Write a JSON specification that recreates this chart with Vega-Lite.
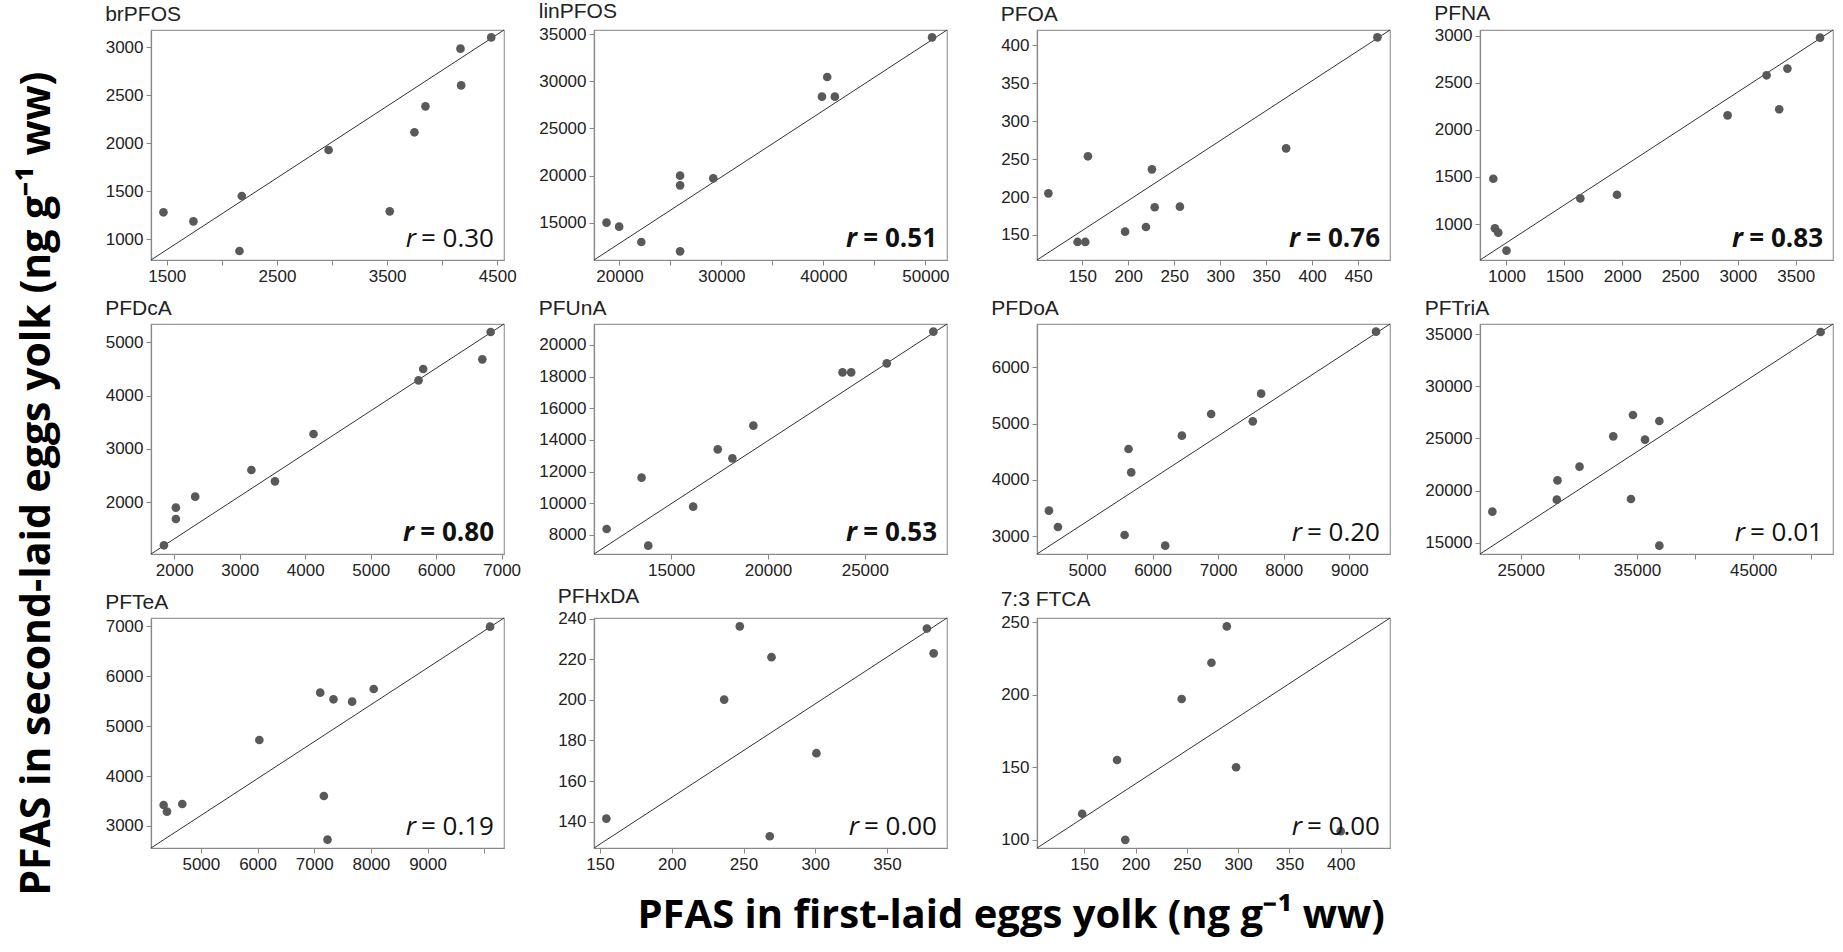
{
  "$schema": "https://vega.github.io/schema/vega-lite/v6.json",
  "background": "white",
  "padding": {"left": 16, "top": 0, "right": 2, "bottom": 10},
  "datasets": {
    "pts": [
      {"panel": "brPFOS", "first": 1470, "second": 1281},
      {"panel": "brPFOS", "first": 1742, "second": 1187},
      {"panel": "brPFOS", "first": 2181, "second": 1451},
      {"panel": "brPFOS", "first": 2160, "second": 879},
      {"panel": "brPFOS", "first": 2969, "second": 1929},
      {"panel": "brPFOS", "first": 3524, "second": 1291},
      {"panel": "brPFOS", "first": 3748, "second": 2113},
      {"panel": "brPFOS", "first": 3848, "second": 2383},
      {"panel": "brPFOS", "first": 4166, "second": 2983},
      {"panel": "brPFOS", "first": 4172, "second": 2601},
      {"panel": "brPFOS", "first": 4445, "second": 3100},
      {"panel": "linPFOS", "first": 18733, "second": 15000},
      {"panel": "linPFOS", "first": 19971, "second": 14574},
      {"panel": "linPFOS", "first": 22144, "second": 12946},
      {"panel": "linPFOS", "first": 25945, "second": 19990},
      {"panel": "linPFOS", "first": 25945, "second": 18964},
      {"panel": "linPFOS", "first": 25945, "second": 11955},
      {"panel": "linPFOS", "first": 29200, "second": 19707},
      {"panel": "linPFOS", "first": 39853, "second": 28380},
      {"panel": "linPFOS", "first": 40371, "second": 30469},
      {"panel": "linPFOS", "first": 41120, "second": 28380},
      {"panel": "linPFOS", "first": 50650, "second": 34681},
      {"panel": "PFOA", "first": 113.2, "second": 204.9},
      {"panel": "PFOA", "first": 144.9, "second": 140.8},
      {"panel": "PFOA", "first": 153.3, "second": 140.8},
      {"panel": "PFOA", "first": 156.2, "second": 253.7},
      {"panel": "PFOA", "first": 196.6, "second": 154.4},
      {"panel": "PFOA", "first": 219.3, "second": 160.5},
      {"panel": "PFOA", "first": 225.8, "second": 236.5},
      {"panel": "PFOA", "first": 228.8, "second": 186.5},
      {"panel": "PFOA", "first": 256.2, "second": 187.3},
      {"panel": "PFOA", "first": 371.7, "second": 264.2},
      {"panel": "PFOA", "first": 471, "second": 410.5},
      {"panel": "PFNA", "first": 886, "second": 1481},
      {"panel": "PFNA", "first": 900, "second": 954},
      {"panel": "PFNA", "first": 929, "second": 908},
      {"panel": "PFNA", "first": 1000, "second": 717},
      {"panel": "PFNA", "first": 1638, "second": 1272},
      {"panel": "PFNA", "first": 1955, "second": 1311},
      {"panel": "PFNA", "first": 2911, "second": 2154},
      {"panel": "PFNA", "first": 3248, "second": 2579},
      {"panel": "PFNA", "first": 3357, "second": 2218},
      {"panel": "PFNA", "first": 3428, "second": 2650},
      {"panel": "PFNA", "first": 3710, "second": 2979},
      {"panel": "PFDcA", "first": 1843, "second": 1194},
      {"panel": "PFDcA", "first": 2025, "second": 1900},
      {"panel": "PFDcA", "first": 2025, "second": 1687},
      {"panel": "PFDcA", "first": 2320, "second": 2106},
      {"panel": "PFDcA", "first": 3178, "second": 2606},
      {"panel": "PFDcA", "first": 3538, "second": 2394},
      {"panel": "PFDcA", "first": 4127, "second": 3281},
      {"panel": "PFDcA", "first": 5731, "second": 4288},
      {"panel": "PFDcA", "first": 5802, "second": 4500},
      {"panel": "PFDcA", "first": 6705, "second": 4681},
      {"panel": "PFDcA", "first": 6832, "second": 5194},
      {"panel": "PFUnA", "first": 11667, "second": 8380},
      {"panel": "PFUnA", "first": 13471, "second": 11622},
      {"panel": "PFUnA", "first": 13815, "second": 7328},
      {"panel": "PFUnA", "first": 16134, "second": 9791},
      {"panel": "PFUnA", "first": 17405, "second": 13411},
      {"panel": "PFUnA", "first": 18161, "second": 12843},
      {"panel": "PFUnA", "first": 19243, "second": 14906},
      {"panel": "PFUnA", "first": 23848, "second": 18274},
      {"panel": "PFUnA", "first": 24294, "second": 18274},
      {"panel": "PFUnA", "first": 26133, "second": 18842},
      {"panel": "PFUnA", "first": 28538, "second": 20842},
      {"panel": "PFDoA", "first": 4421, "second": 3456},
      {"panel": "PFDoA", "first": 4558, "second": 3166},
      {"panel": "PFDoA", "first": 5574, "second": 3024},
      {"panel": "PFDoA", "first": 5634, "second": 4550},
      {"panel": "PFDoA", "first": 5675, "second": 4136},
      {"panel": "PFDoA", "first": 6193, "second": 2834},
      {"panel": "PFDoA", "first": 6447, "second": 4787},
      {"panel": "PFDoA", "first": 6893, "second": 5172},
      {"panel": "PFDoA", "first": 7528, "second": 5041},
      {"panel": "PFDoA", "first": 7655, "second": 5533},
      {"panel": "PFDoA", "first": 9406, "second": 6633},
      {"panel": "PFTriA", "first": 22556, "second": 17997},
      {"panel": "PFTriA", "first": 28160, "second": 20996},
      {"panel": "PFTriA", "first": 28102, "second": 19146},
      {"panel": "PFTriA", "first": 30057, "second": 22304},
      {"panel": "PFTriA", "first": 32959, "second": 25207},
      {"panel": "PFTriA", "first": 34655, "second": 27248},
      {"panel": "PFTriA", "first": 34483, "second": 19209},
      {"panel": "PFTriA", "first": 35690, "second": 24888},
      {"panel": "PFTriA", "first": 36926, "second": 26674},
      {"panel": "PFTriA", "first": 36926, "second": 14743},
      {"panel": "PFTriA", "first": 50807, "second": 35191},
      {"panel": "PFTeA", "first": 4343, "second": 3421},
      {"panel": "PFTeA", "first": 4402, "second": 3287},
      {"panel": "PFTeA", "first": 4672, "second": 3441},
      {"panel": "PFTeA", "first": 6032, "second": 4723},
      {"panel": "PFTeA", "first": 7106, "second": 5671},
      {"panel": "PFTeA", "first": 7170, "second": 3601},
      {"panel": "PFTeA", "first": 7235, "second": 2726},
      {"panel": "PFTeA", "first": 7340, "second": 5538},
      {"panel": "PFTeA", "first": 7669, "second": 5491},
      {"panel": "PFTeA", "first": 8050, "second": 5745},
      {"panel": "PFTeA", "first": 10103, "second": 6993},
      {"panel": "PFHxDA", "first": 154.4, "second": 141.5},
      {"panel": "PFHxDA", "first": 236.5, "second": 200.1},
      {"panel": "PFHxDA", "first": 247.4, "second": 236.2},
      {"panel": "PFHxDA", "first": 268.3, "second": 132.8},
      {"panel": "PFHxDA", "first": 269.5, "second": 221},
      {"panel": "PFHxDA", "first": 300.8, "second": 173.7},
      {"panel": "PFHxDA", "first": 377.8, "second": 235.1},
      {"panel": "PFHxDA", "first": 382.5, "second": 222.9},
      {"panel": "7:3 FTCA", "first": 148, "second": 118},
      {"panel": "7:3 FTCA", "first": 190, "second": 100},
      {"panel": "7:3 FTCA", "first": 182, "second": 155},
      {"panel": "7:3 FTCA", "first": 245, "second": 197},
      {"panel": "7:3 FTCA", "first": 274, "second": 222},
      {"panel": "7:3 FTCA", "first": 289, "second": 247},
      {"panel": "7:3 FTCA", "first": 298, "second": 150},
      {"panel": "7:3 FTCA", "first": 400, "second": 106}
    ],
    "ref": [
      {"panel": "brPFOS", "first": 1357, "second": 785},
      {"panel": "brPFOS", "first": 4561, "second": 3177},
      {"panel": "linPFOS", "first": 17505, "second": 11035},
      {"panel": "linPFOS", "first": 52115, "second": 35460},
      {"panel": "PFOA", "first": 100.8, "second": 117},
      {"panel": "PFOA", "first": 484.7, "second": 420.2},
      {"panel": "PFNA", "first": 771, "second": 618},
      {"panel": "PFNA", "first": 3822, "second": 3060},
      {"panel": "PFDcA", "first": 1645, "second": 1031},
      {"panel": "PFDcA", "first": 7036, "second": 5344},
      {"panel": "PFUnA", "first": 11014, "second": 6800},
      {"panel": "PFUnA", "first": 29243, "second": 21326},
      {"panel": "PFDoA", "first": 4239, "second": 2686},
      {"panel": "PFDoA", "first": 9619, "second": 6769},
      {"panel": "PFTriA", "first": 21492, "second": 13947},
      {"panel": "PFTriA", "first": 51870, "second": 35957},
      {"panel": "PFTeA", "first": 4120, "second": 2559},
      {"panel": "PFTeA", "first": 10349, "second": 7167},
      {"panel": "PFHxDA", "first": 145.8, "second": 127},
      {"panel": "PFHxDA", "first": 391.8, "second": 240.3},
      {"panel": "7:3 FTCA", "first": 104, "second": 94.4},
      {"panel": "7:3 FTCA", "first": 448, "second": 252.8}
    ],
    "ann": [
      {"panel": "brPFOS", "label": "= 0.30"},
      {"panel": "linPFOS", "label": "= 0.51"},
      {"panel": "PFOA", "label": "= 0.76"},
      {"panel": "PFNA", "label": "= 0.83"},
      {"panel": "PFDcA", "label": "= 0.80"},
      {"panel": "PFUnA", "label": "= 0.53"},
      {"panel": "PFDoA", "label": "= 0.20"},
      {"panel": "PFTriA", "label": "= 0.01"},
      {"panel": "PFTeA", "label": "= 0.19"},
      {"panel": "PFHxDA", "label": "= 0.00"},
      {"panel": "7:3 FTCA", "label": "= 0.00"}
    ]
  },
  "title": {"text": "PFAS in first-laid eggs yolk (ng g⁻¹ ww)", "orient": "bottom", "anchor": "middle", "font": "Open Sans", "fontSize": 40, "fontWeight": "bold", "color": "#000", "offset": 0, "dx": 85},
  "config": {
    "view": {"stroke": "#999", "strokeWidth": 1.2},
    "axis": {"labelFont": "Liberation Sans", "labelFontSize": 17, "labelColor": "#222", "domainColor": "#888", "domainWidth": 1.2, "tickColor": "#888", "tickSize": 5, "grid": false, "labelPadding": 3, "labelOverlap": false, "labelFlush": false},
    "title": {"font": "Liberation Sans", "fontSize": 21, "fontWeight": "normal", "anchor": "start", "offset": 3, "color": "#222"}
  },
  "vconcat": [
    {
      "title": {"text": "PFAS in second-laid eggs yolk (ng g⁻¹ ww)", "orient": "left", "anchor": "middle", "font": "Open Sans", "fontSize": 41, "fontWeight": "bold", "color": "#000", "offset": 46, "dx": -47},
      "columns": 4,
      "spacing": {"row": 64, "column": 90},
      "bounds": "flush",
      "concat": [
        {
          "title": "brPFOS", "width": 353, "height": 230,
          "encoding": {
            "x": {"field": "first", "type": "quantitative", "title": null, "scale": {"domain": [1357, 4561], "nice": false, "zero": false}, "axis": {"values": [1500, 2000, 2500, 3000, 3500, 4000, 4500], "format": "d", "labelExpr": "datum.value % 1000 == 500 ? datum.label : ''"}},
            "y": {"field": "second", "type": "quantitative", "title": null, "scale": {"domain": [785, 3177], "nice": false, "zero": false}, "axis": {"values": [1000, 1500, 2000, 2500, 3000], "format": "d"}}
          },
          "layer": [
            {"data": {"name": "ref"}, "transform": [{"filter": "datum.panel === 'brPFOS'"}], "mark": {"type": "line", "color": "#333", "strokeWidth": 1}},
            {"data": {"name": "pts"}, "transform": [{"filter": "datum.panel === 'brPFOS'"}], "mark": {"type": "circle", "size": 75, "color": "#595959", "opacity": 1}},
            {"data": {"name": "ann"}, "transform": [{"filter": "datum.panel === 'brPFOS'"}], "mark": {"type": "text", "text": "r", "font": "Open Sans", "fontSize": 26, "fontStyle": "italic", "fontWeight": "normal", "align": "right", "baseline": "alphabetic", "dx": -88, "dy": -13, "color": "#111"}, "encoding": {"x": {"value": "width"}, "y": {"value": "height"}}},
            {"data": {"name": "ann"}, "transform": [{"filter": "datum.panel === 'brPFOS'"}], "mark": {"type": "text", "font": "Open Sans", "fontSize": 26, "fontWeight": "normal", "align": "right", "baseline": "alphabetic", "dx": -10, "dy": -13, "color": "#111"}, "encoding": {"x": {"value": "width"}, "y": {"value": "height"}, "text": {"field": "label"}}}
          ]
        },
        {
          "title": "linPFOS", "width": 353, "height": 230,
          "encoding": {
            "x": {"field": "first", "type": "quantitative", "title": null, "scale": {"domain": [17505, 52115], "nice": false, "zero": false}, "axis": {"values": [20000, 25000, 30000, 35000, 40000, 45000, 50000], "format": "d", "labelExpr": "datum.value % 10000 == 0 ? datum.label : ''"}},
            "y": {"field": "second", "type": "quantitative", "title": null, "scale": {"domain": [11035, 35460], "nice": false, "zero": false}, "axis": {"values": [15000, 20000, 25000, 30000, 35000], "format": "d"}}
          },
          "layer": [
            {"data": {"name": "ref"}, "transform": [{"filter": "datum.panel === 'linPFOS'"}], "mark": {"type": "line", "color": "#333", "strokeWidth": 1}},
            {"data": {"name": "pts"}, "transform": [{"filter": "datum.panel === 'linPFOS'"}], "mark": {"type": "circle", "size": 75, "color": "#595959", "opacity": 1}},
            {"data": {"name": "ann"}, "transform": [{"filter": "datum.panel === 'linPFOS'"}], "mark": {"type": "text", "text": "r", "font": "Open Sans", "fontSize": 26, "fontStyle": "italic", "fontWeight": "bold", "align": "right", "baseline": "alphabetic", "dx": -90, "dy": -13, "color": "#111"}, "encoding": {"x": {"value": "width"}, "y": {"value": "height"}}},
            {"data": {"name": "ann"}, "transform": [{"filter": "datum.panel === 'linPFOS'"}], "mark": {"type": "text", "font": "Open Sans", "fontSize": 26, "fontWeight": "bold", "align": "right", "baseline": "alphabetic", "dx": -10, "dy": -13, "color": "#111"}, "encoding": {"x": {"value": "width"}, "y": {"value": "height"}, "text": {"field": "label"}}}
          ]
        },
        {
          "title": "PFOA", "width": 353, "height": 230,
          "encoding": {
            "x": {"field": "first", "type": "quantitative", "title": null, "scale": {"domain": [100.8, 484.7], "nice": false, "zero": false}, "axis": {"values": [150, 200, 250, 300, 350, 400, 450], "format": "d"}},
            "y": {"field": "second", "type": "quantitative", "title": null, "scale": {"domain": [117, 420.2], "nice": false, "zero": false}, "axis": {"values": [150, 200, 250, 300, 350, 400], "format": "d"}}
          },
          "layer": [
            {"data": {"name": "ref"}, "transform": [{"filter": "datum.panel === 'PFOA'"}], "mark": {"type": "line", "color": "#333", "strokeWidth": 1}},
            {"data": {"name": "pts"}, "transform": [{"filter": "datum.panel === 'PFOA'"}], "mark": {"type": "circle", "size": 75, "color": "#595959", "opacity": 1}},
            {"data": {"name": "ann"}, "transform": [{"filter": "datum.panel === 'PFOA'"}], "mark": {"type": "text", "text": "r", "font": "Open Sans", "fontSize": 26, "fontStyle": "italic", "fontWeight": "bold", "align": "right", "baseline": "alphabetic", "dx": -90, "dy": -13, "color": "#111"}, "encoding": {"x": {"value": "width"}, "y": {"value": "height"}}},
            {"data": {"name": "ann"}, "transform": [{"filter": "datum.panel === 'PFOA'"}], "mark": {"type": "text", "font": "Open Sans", "fontSize": 26, "fontWeight": "bold", "align": "right", "baseline": "alphabetic", "dx": -10, "dy": -13, "color": "#111"}, "encoding": {"x": {"value": "width"}, "y": {"value": "height"}, "text": {"field": "label"}}}
          ]
        },
        {
          "title": "PFNA", "width": 353, "height": 230,
          "encoding": {
            "x": {"field": "first", "type": "quantitative", "title": null, "scale": {"domain": [771, 3822], "nice": false, "zero": false}, "axis": {"values": [1000, 1500, 2000, 2500, 3000, 3500], "format": "d"}},
            "y": {"field": "second", "type": "quantitative", "title": null, "scale": {"domain": [618, 3060], "nice": false, "zero": false}, "axis": {"values": [1000, 1500, 2000, 2500, 3000], "format": "d"}}
          },
          "layer": [
            {"data": {"name": "ref"}, "transform": [{"filter": "datum.panel === 'PFNA'"}], "mark": {"type": "line", "color": "#333", "strokeWidth": 1}},
            {"data": {"name": "pts"}, "transform": [{"filter": "datum.panel === 'PFNA'"}], "mark": {"type": "circle", "size": 75, "color": "#595959", "opacity": 1}},
            {"data": {"name": "ann"}, "transform": [{"filter": "datum.panel === 'PFNA'"}], "mark": {"type": "text", "text": "r", "font": "Open Sans", "fontSize": 26, "fontStyle": "italic", "fontWeight": "bold", "align": "right", "baseline": "alphabetic", "dx": -90, "dy": -13, "color": "#111"}, "encoding": {"x": {"value": "width"}, "y": {"value": "height"}}},
            {"data": {"name": "ann"}, "transform": [{"filter": "datum.panel === 'PFNA'"}], "mark": {"type": "text", "font": "Open Sans", "fontSize": 26, "fontWeight": "bold", "align": "right", "baseline": "alphabetic", "dx": -10, "dy": -13, "color": "#111"}, "encoding": {"x": {"value": "width"}, "y": {"value": "height"}, "text": {"field": "label"}}}
          ]
        },
        {
          "title": "PFDcA", "width": 353, "height": 230,
          "encoding": {
            "x": {"field": "first", "type": "quantitative", "title": null, "scale": {"domain": [1645, 7036], "nice": false, "zero": false}, "axis": {"values": [2000, 3000, 4000, 5000, 6000, 7000], "format": "d"}},
            "y": {"field": "second", "type": "quantitative", "title": null, "scale": {"domain": [1031, 5344], "nice": false, "zero": false}, "axis": {"values": [2000, 3000, 4000, 5000], "format": "d"}}
          },
          "layer": [
            {"data": {"name": "ref"}, "transform": [{"filter": "datum.panel === 'PFDcA'"}], "mark": {"type": "line", "color": "#333", "strokeWidth": 1}},
            {"data": {"name": "pts"}, "transform": [{"filter": "datum.panel === 'PFDcA'"}], "mark": {"type": "circle", "size": 75, "color": "#595959", "opacity": 1}},
            {"data": {"name": "ann"}, "transform": [{"filter": "datum.panel === 'PFDcA'"}], "mark": {"type": "text", "text": "r", "font": "Open Sans", "fontSize": 26, "fontStyle": "italic", "fontWeight": "bold", "align": "right", "baseline": "alphabetic", "dx": -90, "dy": -13, "color": "#111"}, "encoding": {"x": {"value": "width"}, "y": {"value": "height"}}},
            {"data": {"name": "ann"}, "transform": [{"filter": "datum.panel === 'PFDcA'"}], "mark": {"type": "text", "font": "Open Sans", "fontSize": 26, "fontWeight": "bold", "align": "right", "baseline": "alphabetic", "dx": -10, "dy": -13, "color": "#111"}, "encoding": {"x": {"value": "width"}, "y": {"value": "height"}, "text": {"field": "label"}}}
          ]
        },
        {
          "title": "PFUnA", "width": 353, "height": 230,
          "encoding": {
            "x": {"field": "first", "type": "quantitative", "title": null, "scale": {"domain": [11014, 29243], "nice": false, "zero": false}, "axis": {"values": [15000, 20000, 25000], "format": "d"}},
            "y": {"field": "second", "type": "quantitative", "title": null, "scale": {"domain": [6800, 21326], "nice": false, "zero": false}, "axis": {"values": [8000, 10000, 12000, 14000, 16000, 18000, 20000], "format": "d"}}
          },
          "layer": [
            {"data": {"name": "ref"}, "transform": [{"filter": "datum.panel === 'PFUnA'"}], "mark": {"type": "line", "color": "#333", "strokeWidth": 1}},
            {"data": {"name": "pts"}, "transform": [{"filter": "datum.panel === 'PFUnA'"}], "mark": {"type": "circle", "size": 75, "color": "#595959", "opacity": 1}},
            {"data": {"name": "ann"}, "transform": [{"filter": "datum.panel === 'PFUnA'"}], "mark": {"type": "text", "text": "r", "font": "Open Sans", "fontSize": 26, "fontStyle": "italic", "fontWeight": "bold", "align": "right", "baseline": "alphabetic", "dx": -90, "dy": -13, "color": "#111"}, "encoding": {"x": {"value": "width"}, "y": {"value": "height"}}},
            {"data": {"name": "ann"}, "transform": [{"filter": "datum.panel === 'PFUnA'"}], "mark": {"type": "text", "font": "Open Sans", "fontSize": 26, "fontWeight": "bold", "align": "right", "baseline": "alphabetic", "dx": -10, "dy": -13, "color": "#111"}, "encoding": {"x": {"value": "width"}, "y": {"value": "height"}, "text": {"field": "label"}}}
          ]
        },
        {
          "title": "PFDoA", "width": 353, "height": 230,
          "encoding": {
            "x": {"field": "first", "type": "quantitative", "title": null, "scale": {"domain": [4239, 9619], "nice": false, "zero": false}, "axis": {"values": [5000, 6000, 7000, 8000, 9000], "format": "d"}},
            "y": {"field": "second", "type": "quantitative", "title": null, "scale": {"domain": [2686, 6769], "nice": false, "zero": false}, "axis": {"values": [3000, 4000, 5000, 6000], "format": "d"}}
          },
          "layer": [
            {"data": {"name": "ref"}, "transform": [{"filter": "datum.panel === 'PFDoA'"}], "mark": {"type": "line", "color": "#333", "strokeWidth": 1}},
            {"data": {"name": "pts"}, "transform": [{"filter": "datum.panel === 'PFDoA'"}], "mark": {"type": "circle", "size": 75, "color": "#595959", "opacity": 1}},
            {"data": {"name": "ann"}, "transform": [{"filter": "datum.panel === 'PFDoA'"}], "mark": {"type": "text", "text": "r", "font": "Open Sans", "fontSize": 26, "fontStyle": "italic", "fontWeight": "normal", "align": "right", "baseline": "alphabetic", "dx": -88, "dy": -13, "color": "#111"}, "encoding": {"x": {"value": "width"}, "y": {"value": "height"}}},
            {"data": {"name": "ann"}, "transform": [{"filter": "datum.panel === 'PFDoA'"}], "mark": {"type": "text", "font": "Open Sans", "fontSize": 26, "fontWeight": "normal", "align": "right", "baseline": "alphabetic", "dx": -10, "dy": -13, "color": "#111"}, "encoding": {"x": {"value": "width"}, "y": {"value": "height"}, "text": {"field": "label"}}}
          ]
        },
        {
          "title": "PFTriA", "width": 353, "height": 230,
          "encoding": {
            "x": {"field": "first", "type": "quantitative", "title": null, "scale": {"domain": [21492, 51870], "nice": false, "zero": false}, "axis": {"values": [25000, 30000, 35000, 40000, 45000, 50000], "format": "d", "labelExpr": "datum.value % 10000 == 5000 ? datum.label : ''"}},
            "y": {"field": "second", "type": "quantitative", "title": null, "scale": {"domain": [13947, 35957], "nice": false, "zero": false}, "axis": {"values": [15000, 20000, 25000, 30000, 35000], "format": "d"}}
          },
          "layer": [
            {"data": {"name": "ref"}, "transform": [{"filter": "datum.panel === 'PFTriA'"}], "mark": {"type": "line", "color": "#333", "strokeWidth": 1}},
            {"data": {"name": "pts"}, "transform": [{"filter": "datum.panel === 'PFTriA'"}], "mark": {"type": "circle", "size": 75, "color": "#595959", "opacity": 1}},
            {"data": {"name": "ann"}, "transform": [{"filter": "datum.panel === 'PFTriA'"}], "mark": {"type": "text", "text": "r", "font": "Open Sans", "fontSize": 26, "fontStyle": "italic", "fontWeight": "normal", "align": "right", "baseline": "alphabetic", "dx": -88, "dy": -13, "color": "#111"}, "encoding": {"x": {"value": "width"}, "y": {"value": "height"}}},
            {"data": {"name": "ann"}, "transform": [{"filter": "datum.panel === 'PFTriA'"}], "mark": {"type": "text", "font": "Open Sans", "fontSize": 26, "fontWeight": "normal", "align": "right", "baseline": "alphabetic", "dx": -10, "dy": -13, "color": "#111"}, "encoding": {"x": {"value": "width"}, "y": {"value": "height"}, "text": {"field": "label"}}}
          ]
        },
        {
          "title": "PFTeA", "width": 353, "height": 230,
          "encoding": {
            "x": {"field": "first", "type": "quantitative", "title": null, "scale": {"domain": [4120, 10349], "nice": false, "zero": false}, "axis": {"values": [5000, 6000, 7000, 8000, 9000, 10000], "format": "d", "labelExpr": "datum.value < 10000 ? datum.label : ''"}},
            "y": {"field": "second", "type": "quantitative", "title": null, "scale": {"domain": [2559, 7167], "nice": false, "zero": false}, "axis": {"values": [3000, 4000, 5000, 6000, 7000], "format": "d"}}
          },
          "layer": [
            {"data": {"name": "ref"}, "transform": [{"filter": "datum.panel === 'PFTeA'"}], "mark": {"type": "line", "color": "#333", "strokeWidth": 1}},
            {"data": {"name": "pts"}, "transform": [{"filter": "datum.panel === 'PFTeA'"}], "mark": {"type": "circle", "size": 75, "color": "#595959", "opacity": 1}},
            {"data": {"name": "ann"}, "transform": [{"filter": "datum.panel === 'PFTeA'"}], "mark": {"type": "text", "text": "r", "font": "Open Sans", "fontSize": 26, "fontStyle": "italic", "fontWeight": "normal", "align": "right", "baseline": "alphabetic", "dx": -88, "dy": -13, "color": "#111"}, "encoding": {"x": {"value": "width"}, "y": {"value": "height"}}},
            {"data": {"name": "ann"}, "transform": [{"filter": "datum.panel === 'PFTeA'"}], "mark": {"type": "text", "font": "Open Sans", "fontSize": 26, "fontWeight": "normal", "align": "right", "baseline": "alphabetic", "dx": -10, "dy": -13, "color": "#111"}, "encoding": {"x": {"value": "width"}, "y": {"value": "height"}, "text": {"field": "label"}}}
          ]
        },
        {
          "title": "PFHxDA", "width": 353, "height": 230,
          "encoding": {
            "x": {"field": "first", "type": "quantitative", "title": null, "scale": {"domain": [145.8, 391.8], "nice": false, "zero": false}, "axis": {"values": [150, 200, 250, 300, 350], "format": "d"}},
            "y": {"field": "second", "type": "quantitative", "title": null, "scale": {"domain": [127, 240.3], "nice": false, "zero": false}, "axis": {"values": [140, 160, 180, 200, 220, 240], "format": "d"}}
          },
          "layer": [
            {"data": {"name": "ref"}, "transform": [{"filter": "datum.panel === 'PFHxDA'"}], "mark": {"type": "line", "color": "#333", "strokeWidth": 1}},
            {"data": {"name": "pts"}, "transform": [{"filter": "datum.panel === 'PFHxDA'"}], "mark": {"type": "circle", "size": 75, "color": "#595959", "opacity": 1}},
            {"data": {"name": "ann"}, "transform": [{"filter": "datum.panel === 'PFHxDA'"}], "mark": {"type": "text", "text": "r", "font": "Open Sans", "fontSize": 26, "fontStyle": "italic", "fontWeight": "normal", "align": "right", "baseline": "alphabetic", "dx": -88, "dy": -13, "color": "#111"}, "encoding": {"x": {"value": "width"}, "y": {"value": "height"}}},
            {"data": {"name": "ann"}, "transform": [{"filter": "datum.panel === 'PFHxDA'"}], "mark": {"type": "text", "font": "Open Sans", "fontSize": 26, "fontWeight": "normal", "align": "right", "baseline": "alphabetic", "dx": -10, "dy": -13, "color": "#111"}, "encoding": {"x": {"value": "width"}, "y": {"value": "height"}, "text": {"field": "label"}}}
          ]
        },
        {
          "title": "7:3 FTCA", "width": 353, "height": 230,
          "encoding": {
            "x": {"field": "first", "type": "quantitative", "title": null, "scale": {"domain": [104, 448], "nice": false, "zero": false}, "axis": {"values": [150, 200, 250, 300, 350, 400], "format": "d"}},
            "y": {"field": "second", "type": "quantitative", "title": null, "scale": {"domain": [94.4, 252.8], "nice": false, "zero": false}, "axis": {"values": [100, 150, 200, 250], "format": "d"}}
          },
          "layer": [
            {"data": {"name": "ref"}, "transform": [{"filter": "datum.panel === '7:3 FTCA'"}], "mark": {"type": "line", "color": "#333", "strokeWidth": 1}},
            {"data": {"name": "pts"}, "transform": [{"filter": "datum.panel === '7:3 FTCA'"}], "mark": {"type": "circle", "size": 75, "color": "#595959", "opacity": 1}},
            {"data": {"name": "ann"}, "transform": [{"filter": "datum.panel === '7:3 FTCA'"}], "mark": {"type": "text", "text": "r", "font": "Open Sans", "fontSize": 26, "fontStyle": "italic", "fontWeight": "normal", "align": "right", "baseline": "alphabetic", "dx": -88, "dy": -13, "color": "#111"}, "encoding": {"x": {"value": "width"}, "y": {"value": "height"}}},
            {"data": {"name": "ann"}, "transform": [{"filter": "datum.panel === '7:3 FTCA'"}], "mark": {"type": "text", "font": "Open Sans", "fontSize": 26, "fontWeight": "normal", "align": "right", "baseline": "alphabetic", "dx": -10, "dy": -13, "color": "#111"}, "encoding": {"x": {"value": "width"}, "y": {"value": "height"}, "text": {"field": "label"}}}
          ]
        }
      ]
    }
  ]
}
